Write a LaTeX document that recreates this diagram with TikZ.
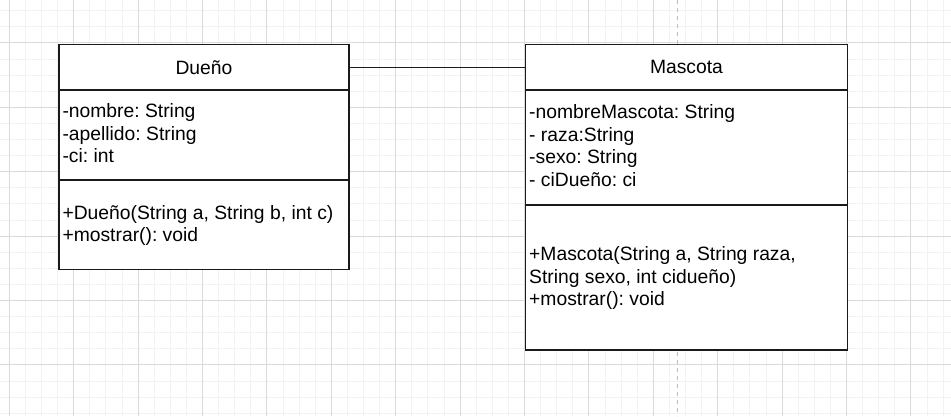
\documentclass[tikz,border=0pt]{standalone}
\usepackage{fontspec}
\setmainfont{Liberation Sans}
\frenchspacing
\definecolor{minorgrid}{HTML}{F2F2F2}
\definecolor{majorgrid}{HTML}{DADADA}
\definecolor{guide}{HTML}{BDBDBD}
\definecolor{boxline}{HTML}{1A1A1A}
\tikzset{
  minorline/.style={draw=minorgrid, line width=1pt},
  majorline/.style={draw=majorgrid, line width=1pt},
  guideline/.style={draw=guide, line width=1pt, dash pattern=on 4pt off 4pt},
  compart/.style={draw=boxline, fill=white, line width=1.4pt, inner sep=0pt, rectangle,
    font=\fontsize{19.3}{22}\selectfont},
  member/.style={anchor=base west, inner sep=0pt, font=\fontsize{19.3}{22}\selectfont\frenchspacing},
  assoc/.style={draw=boxline, line width=1.4pt}
}
\begin{document}
\begin{tikzpicture}[x=1pt,y=-1pt]
\fill[white] (0,0) rectangle (951,416);
\useasboundingbox (0,0) rectangle (951,416);
\begin{scope}
\clip (0,0) rectangle (951,416);
% minor grid
\foreach \i in {0,...,59} { \draw[minorline] ({-6.8+16.1*\i},0) -- ({-6.8+16.1*\i},416); }
\foreach \j in {0,...,26} { \draw[minorline] (0,{-5.4+16.1*\j}) -- (951,{-5.4+16.1*\j}); }
% major grid
\foreach \i in {0,...,14} { \draw[majorline] ({9.3+64.4*\i},0) -- ({9.3+64.4*\i},416); }
\foreach \j in {1,...,6} { \draw[majorline] (0,{-21.5+64.4*\j}) -- (951,{-21.5+64.4*\j}); }
% guide
\coordinate (gtop) at (677.3,0);
\coordinate (gbot) at (677.3,416);
\draw[guideline] (gtop) -- (gbot);
\end{scope}

% Dueño class
\node[compart, minimum width=290pt, minimum height=45.5pt] (dueno) at (204,67.25) {Dueño};
\node[compart, minimum width=290pt, minimum height=90pt] (duenoAttr) at (204,135) {};
\node[compart, minimum width=290pt, minimum height=89.5pt] (duenoMeth) at (204,224.75) {};
\node[member] (d1) at (62.3,117.7) {-nombre: String};
\node[member] (d2) at (62.3,140.2) {-apellido: String};
\node[member] (d3) at (62.3,162.7) {-ci: int};
\node[member] (d4) at (62.3,219.3) {+Dueño(String a, String b, int c)};
\node[member] (d5) at (62.3,241.3) {+mostrar(): void};

% Mascota class
\node[compart, minimum width=321.6pt, minimum height=45.5pt] (mascota) at (686.5,67.25) {Mascota};
\node[compart, minimum width=321.6pt, minimum height=115pt] (mascotaAttr) at (686.5,147.5) {};
\node[compart, minimum width=321.6pt, minimum height=145pt] (mascotaMeth) at (686.5,277.5) {};
\node[member] (m1) at (529,118.3) {-nombreMascota: String};
\node[member] (m2) at (529,141.1) {- raza:String};
\node[member] (m3) at (529,163.9) {-sexo: String};
\node[member] (m4) at (529,186.7) {- ciDueño: ci};
\node[member] (m5) at (529,260.7) {+Mascota(String a, String raza,};
\node[member] (m6) at (529,283.1) {String sexo, int cidueño)};
\node[member] (m7) at (529,305.3) {+mostrar(): void};

% association
\draw[assoc] (dueno.east) -- (mascota.west);
\end{tikzpicture}
\end{document}
